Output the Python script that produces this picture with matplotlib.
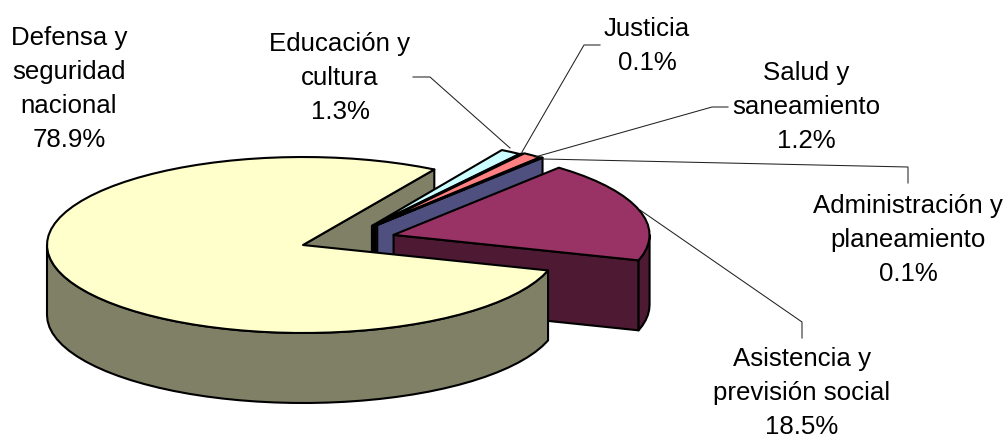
import numpy as np
import matplotlib
matplotlib.use('Agg')
import matplotlib.pyplot as plt
from matplotlib.patches import Polygon

plt.rcParams['font.family'] = ['Liberation Sans', 'DejaVu Sans']

# data, clockwise from the top right edge of the yellow slice
labels = ['Educación y\ncultura', 'Justicia', 'Salud y\nsaneamiento',
          'Administración y\nplaneamiento', 'Asistencia y\nprevisión social',
          'Defensa y\nseguridad\nnacional']
values = [1.3, 0.1, 1.2, 0.1, 18.5, 78.9]

top_colors = ['#CCFFFF', '#660066', '#FF8080', '#9999FF', '#993366', '#FFFFCC']
side_colors = ['#668080', '#330033', '#804040', '#4F4F80', '#4D1933', '#808066']

# how far each slice is pulled out of the pie, and in which direction
explode = [0.346, 0.356, 0.364, 0.369, 0.372, 0.0]
explode_dir = [38.9, 38.8, 38.8, 38.2, 18, 0]

CX, CY = 303, 245
RX, RY = 256, 88
DEPTH = 70
START = 59.5
LW = 1.5


def to_xy(angle, radius=1.0, ox=0.0, oy=0.0):
    a = np.radians(angle)
    return ox + radius * RX * np.cos(a), oy - radius * RY * np.sin(a)


def arc(a0, a1, ox, oy):
    n = max(2, int(abs(a1 - a0) / 4) + 2)
    angs = np.linspace(a0, a1, n)
    x, y = to_xy(angs, 1.0, ox, oy)
    return np.column_stack([x, y])


def add_poly(ax, pts, color, z):
    ax.add_patch(Polygon(pts, closed=True, facecolor=color, edgecolor='black',
                         linewidth=LW, joinstyle='round', zorder=z))


def add_wall(ax, a0, a1, ox, oy, color, z):
    # only the part of the rim that faces the viewer
    lo = max(min(a0, a1), -180)
    hi = min(max(a0, a1), 0)
    if hi <= lo:
        return
    rim = arc(hi, lo, ox, oy)
    add_poly(ax, np.vstack([rim, (rim + [0, DEPTH])[::-1]]), color, z)


fig = plt.figure(figsize=(10.06, 4.38), dpi=100)
ax = fig.add_axes([0, 0, 1, 1])
ax.set_xlim(0, 1006)
ax.set_ylim(438, 0)
ax.axis('off')

# slice angles come from the values
angles = [START]
for v in values:
    angles.append(angles[-1] - v * 3.6)

slices = []
for i in range(len(values)):
    ox, oy = to_xy(explode_dir[i], explode[i], CX, CY)
    slices.append((angles[i], angles[i + 1], ox, oy))

# back cut face of the big slice comes first, it sits behind everything
a0, a1, ox, oy = slices[5]
end = to_xy(a1, 1.0, ox, oy)
add_poly(ax, [(ox, oy), end, (end[0], end[1] + DEPTH), (ox, oy + DEPTH)], side_colors[5], 1)

z = 2
for i in range(5):
    a0, a1, ox, oy = slices[i]
    e = to_xy(a1, 1.0, ox, oy)
    # cut face on the clockwise side
    add_poly(ax, [(ox, oy), e, (e[0], e[1] + DEPTH), (ox, oy + DEPTH)], side_colors[i], z)
    add_wall(ax, a0, a1, ox, oy, side_colors[i], z)
    # top face
    add_poly(ax, np.vstack([[(ox, oy)], arc(a0, a1, ox, oy)]), top_colors[i], z + 1)
    z += 2

# big slice: outer wall and top
a0, a1, ox, oy = slices[5]
add_wall(ax, a0, a1, ox, oy, side_colors[5], 20)
add_poly(ax, np.vstack([[(ox, oy)], arc(a0, a1, ox, oy)]), top_colors[5], 21)

# leader lines
leaders = [
    [(413, 77), (430, 77), (510, 148)],
    [(600, 45), (584, 45), (522, 152)],
    [(728, 107), (712, 107), (535, 157)],
    [(908, 183), (908, 167), (543, 159)],
    [(802, 338), (802, 322), (640, 210)],
]
for pts in leaders:
    xs, ys = zip(*pts)
    ax.plot(xs, ys, color='#222222', lw=0.75, zorder=10, solid_joinstyle='miter')

# labels with their percentage
label_pos = [(340, 32), (647, 17), (806, 61), (908, 194), (802, 347), (69, 26)]
for lab, v, (x, y) in zip(labels, values, label_pos):
    ax.text(x, y, f'{lab}\n{v}%', ha='center', va='top', fontsize=18.6,
            linespacing=1.52, color='black', zorder=40)

fig.savefig('out.png', dpi=100)
